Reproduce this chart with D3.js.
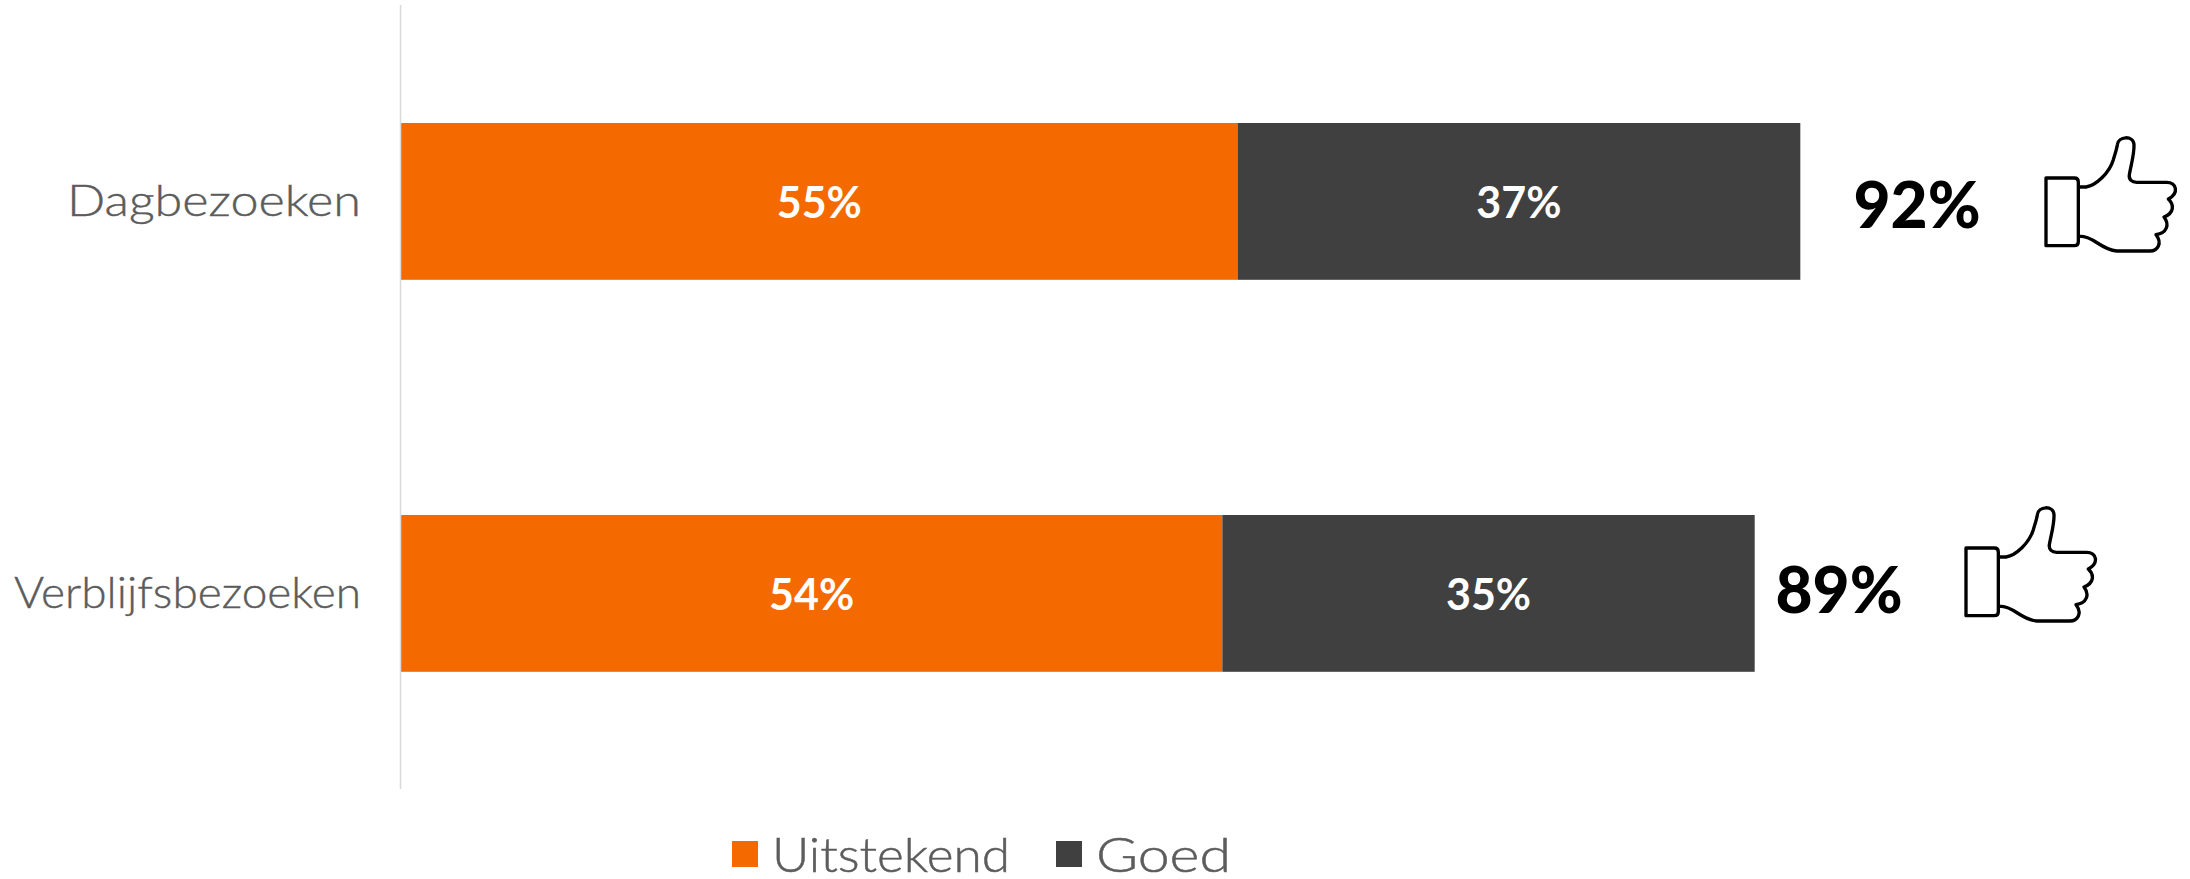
<!DOCTYPE html>
<html>
<head>
<meta charset="utf-8">
<script src="https://cdn.jsdelivr.net/npm/d3@7/dist/d3.min.js"></script>
<style>
  html, body { margin: 0; padding: 0; background: #fff; }
  svg { display: block; }
  text { font-family: Lato, "Open Sans", sans-serif; }
</style>
</head>
<body>
<svg id="chart" width="2190" height="879"></svg>
<script>
// Visit types and the share of ratings per answer, in percent
const categories = ["Dagbezoeken", "Verblijfsbezoeken"];
const uitstekend = [55, 54];
const goed = [37, 35];
const totals = [92, 89];
const seriesNames = ["Uitstekend", "Goed"];
const seriesColors = ["#F46A00", "#404040"];
const labelGrey = "#5C5C5C";

const svg = d3.select("#chart");
const axisX = 401;

const x = d3.scaleLinear().domain([0, 100]).range([axisX, axisX + 1521]);
const y = d3.scaleBand().domain(categories).range([5.4, 789.4])
  .paddingInner(0.6).paddingOuter(0.3);

// Stacked bars
const stacked = d3.stack().keys([0, 1]).value((row, k) => row[k])(
  categories.map((c, i) => [uitstekend[i], goed[i]])
);

stacked.forEach((layer, k) => {
  const g = svg.append("g");
  g.selectAll("rect").data(layer).join("rect")
    .attr("x", d => x(d[0]))
    .attr("y", (d, i) => y(categories[i]))
    .attr("width", d => x(d[1]) - x(d[0]))
    .attr("height", y.bandwidth())
    .attr("fill", seriesColors[k]);
  g.selectAll("text").data(layer).join("text")
    .attr("x", d => (x(d[0]) + x(d[1])) / 2)
    .attr("y", (d, i) => y(categories[i]) + y.bandwidth() / 2 + 17)
    .attr("text-anchor", "middle")
    .attr("font-size", 43)
    .attr("font-weight", 700)
    .attr("fill", "#fff")
    .text(d => `${d[1] - d[0]}%`);
});

// Vertical category axis
const axis = svg.append("g")
  .attr("transform", `translate(${axisX},0)`)
  .call(d3.axisLeft(y).tickSize(0).tickPadding(40));
axis.select(".domain").remove();
axis.selectAll("text")
  .attr("font-size", 43)
  .attr("font-weight", 300)
  .attr("fill", labelGrey)
  .attr("stroke", labelGrey)
  .attr("stroke-width", 0.4)
  .attr("font-family", "Lato, sans-serif")
  .attr("dy", 0)
  .attr("transform", "translate(0,15)")
  .attr("textLength", (d, i) => [294, 347][i])
  .attr("lengthAdjust", "spacingAndGlyphs");
svg.append("line")
  .attr("x1", axisX - 0.5).attr("x2", axisX - 0.5)
  .attr("y1", 5).attr("y2", 789)
  .attr("stroke", "#D9D9D9").attr("stroke-width", 1.5);

// Totals beside each bar, with a thumbs-up outline
const totalX = [1917, 1839];
const totalBaseline = [228, 613];
svg.selectAll(".total").data(totals).join("text")
  .attr("class", "total")
  .attr("x", (d, i) => totalX[i])
  .attr("y", (d, i) => totalBaseline[i])
  .attr("text-anchor", "middle")
  .attr("font-size", 64)
  .attr("font-weight", 900)
  .attr("fill", "#000")
  .text(d => `${d}%`);

const thumbPath = "M99 27 H120 C150 22 190 -15 202 -55 C206 -70 212 -85 214 -100 C216 -125 262 -130 264 -100 C265 -70 255 -40 250 -10 C248 5 258 13 272 13 H362 C392 13 400 45 367 63 C385 80 385 105 354 117 C372 140 362 165 330 170 C350 195 335 219 312 219 H212 C165 215 142 175 107 175 H99";
const cuffPath = "M0 0 H85 Q97 0 97 12 V191 Q97 203 85 203 H0 Z";
const thumbPos = [[2046, 178], [1966, 548]];
const thumbs = svg.selectAll(".thumb").data(thumbPos).join("g")
  .attr("class", "thumb")
  .attr("transform", d => `translate(${d[0]},${d[1]}) scale(${1 / 3})`)
  .attr("fill", "none")
  .attr("stroke", "#000")
  .attr("stroke-width", 10)
  .attr("stroke-linejoin", "round");
thumbs.append("path").attr("d", cuffPath);
thumbs.append("path").attr("d", thumbPath);

// Legend below the plot
const legendX = [732, 1056];
const legendLabelX = [772, 1096];
const legendWidth = [238, 135];
const legend = svg.selectAll(".legend").data(seriesNames).join("g").attr("class", "legend");
legend.append("rect")
  .attr("x", (d, i) => legendX[i]).attr("y", 841)
  .attr("width", 26).attr("height", 26)
  .attr("fill", (d, i) => seriesColors[i]);
legend.append("text")
  .attr("x", (d, i) => legendLabelX[i]).attr("y", 872)
  .attr("font-size", 48)
  .attr("font-weight", 300)
  .attr("fill", labelGrey)
  .attr("stroke", labelGrey)
  .attr("stroke-width", 0.5)
  .attr("textLength", (d, i) => legendWidth[i])
  .attr("lengthAdjust", "spacingAndGlyphs")
  .text(d => d);
</script>
</body>
</html>
